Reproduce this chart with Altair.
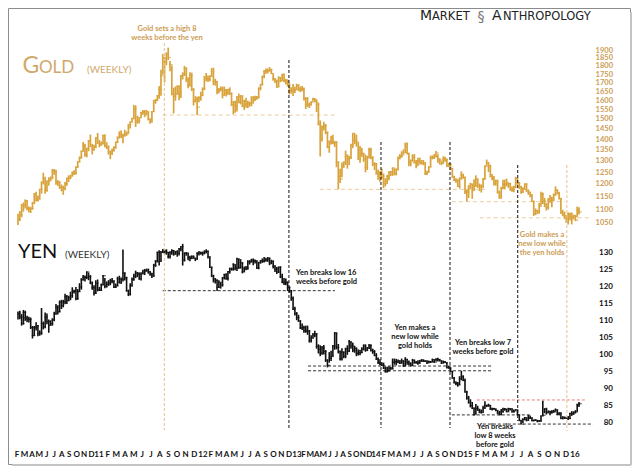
import altair as alt
import numpy as np
import pandas as pd

# ---------------- data (weekly, first bar = week ending 2010-02-05) ----------------
gold_close = [
    1065,1080,1117,1118, 1134,1102,1105,1105, 1125,1161,1136,1141,1180, 1209,1229,1176,1213, 1219,1229,1258,1256, 1209,1210,1190,1189,1181, 1204,1226,1227,1235, 1247,1246,1275,1296, 1318,1345,1368,1328,1357, 1394,1367,1352,1362, 1406,1385,1376,1380,1421,
    1369,1361,1343,1336, 1348,1361,1388,1410, 1428,1420,1418,1429, 1429,1474,1486,1504,1556, 1491,1493,1509,1536, 1542,1530,1540,1502, 1487,1541,1601,1602,1628, 1663,1744,1852,1828, 1876,1856,1811,1637,1624, 1636,1682,1641,1744, 1754,1788,1725,1686, 1746,1663,1598,1606,1565,
    1617,1631,1665,1738, 1725,1722,1740,1769, 1710,1709,1657,1662,1668, 1631,1660,1642,1663, 1642,1578,1592,1573, 1622,1592,1628,1572,1597, 1579,1589,1584,1619, 1604,1616,1616,1671,1692, 1740,1770,1773,1773, 1780,1757,1725,1711, 1677,1731,1714,1752,1713, 1700,1696,1658,1658,
    1656,1662,1688,1659, 1667,1666,1611,1581, 1576,1578,1592,1608,1595, 1580,1477,1405,1463, 1470,1434,1365,1387,1392, 1383,1387,1297,1234, 1223,1277,1294,1322, 1310,1314,1372,1395,1396, 1387,1309,1332,1336, 1310,1272,1315,1352, 1315,1288,1287,1244,1253, 1230,1234,1203,1214,
    1234,1252,1254,1270,1244, 1263,1318,1323,1327, 1339,1379,1336,1294, 1302,1318,1293,1300, 1300,1292,1293,1292,1245, 1252,1275,1316,1316, 1320,1337,1310,1304, 1293,1309,1305,1280,1287, 1268,1230,1216,1218, 1192,1222,1238,1231,1171, 1169,1185,1201,1175, 1192,1222,1195,1195,
    1189,1223,1277,1293,1279, 1234,1227,1203,1213, 1168,1152,1184,1199, 1201,1204,1203,1178, 1178,1189,1225,1205,1190, 1168,1180,1201,1174, 1168,1157,1133,1085,1095, 1094,1113,1160,1134, 1121,1108,1138,1146, 1137,1156,1177,1163,1142, 1088,1081,1076,1056, 1085,1075,1066,1076,
    1061,1098,1092,
]
gold_high = [
    1085,1095,1122,1128, 1140,1138,1112,1110, 1130,1165,1170,1155,1182, 1212,1249,1230,1216, 1230,1233,1265,1265, 1262,1218,1213,1200,1195, 1210,1228,1238,1241, 1255,1260,1276,1300, 1320,1348,1388,1380,1362, 1398,1424,1380,1375, 1412,1432,1398,1391,1424,
    1425,1388,1372,1348, 1358,1368,1390,1415, 1440,1445,1428,1448, 1440,1476,1490,1509,1577, 1575,1520,1512,1540, 1550,1550,1550,1543, 1505,1545,1602,1610,1632, 1682,1780,1878,1860, 1890,1920,1834,1805,1673, 1680,1686,1686,1748, 1764,1803,1794,1734, 1765,1762,1671,1625,1622,
    1625,1650,1675,1740, 1760,1745,1745,1790, 1792,1725,1712,1672,1680, 1680,1680,1665,1665, 1675,1645,1598,1600, 1625,1640,1630,1627,1605, 1616,1600,1595,1624, 1625,1627,1626,1674,1692, 1742,1777,1788,1787, 1796,1786,1756,1730, 1720,1740,1737,1754,1755, 1725,1722,1697,1676,
    1694,1679,1696,1692, 1680,1683,1675,1620, 1620,1590,1597,1617,1615, 1608,1590,1495,1470, 1488,1477,1440,1396,1419, 1424,1393,1392,1298, 1267,1294,1299,1348, 1331,1324,1380,1433,1433, 1424,1387,1370,1361, 1337,1330,1324,1361, 1361,1322,1295,1292,1263, 1256,1267,1246,1226,
    1240,1256,1256,1272,1268, 1268,1320,1332,1345, 1354,1385,1386,1337, 1308,1331,1332,1305, 1315,1316,1305,1305,1295, 1258,1277,1325,1326, 1332,1346,1331,1312, 1300,1322,1320,1312,1292, 1290,1270,1236,1226, 1221,1230,1255,1245,1231, 1180,1197,1207,1203, 1222,1238,1225,1204,
    1200,1227,1282,1307,1295, 1284,1244,1235,1220, 1220,1175,1190,1220, 1220,1224,1209,1206, 1192,1195,1232,1226,1210, 1195,1188,1205,1205, 1180,1170,1160,1134,1105, 1100,1126,1170,1167, 1146,1125,1145,1157, 1150,1164,1192,1180,1170, 1146,1100,1093,1080, 1090,1089,1090,1082,
    1081,1112,1110,
]
gold_low = [
    1044,1058,1072,1093, 1105,1098,1090,1088, 1100,1122,1132,1132,1140, 1163,1200,1162,1170, 1195,1213,1222,1240, 1199,1194,1182,1172,1158, 1176,1195,1210,1222, 1233,1240,1242,1270, 1296,1310,1343,1320,1317, 1345,1366,1330,1347, 1361,1379,1363,1370,1378,
    1364,1355,1330,1309, 1328,1344,1357,1383, 1405,1407,1382,1415, 1418,1430,1454,1486,1502, 1462,1478,1480,1510, 1525,1512,1520,1495, 1478,1486,1539,1583,1598, 1611,1627,1750,1704, 1807,1840,1771,1630,1532, 1600,1634,1603,1615, 1721,1742,1706,1670, 1680,1654,1574,1590,1523,
    1591,1600,1625,1660, 1710,1706,1710,1737, 1688,1685,1636,1641,1652, 1613,1628,1624,1633, 1632,1571,1527,1535, 1542,1586,1580,1565,1550, 1562,1560,1567,1570, 1584,1598,1605,1614,1658, 1686,1728,1755,1757, 1768,1754,1714,1700, 1672,1678,1705,1712,1705, 1692,1680,1635,1640,
    1626,1643,1660,1655, 1648,1653,1601,1555, 1565,1560,1574,1595,1592, 1539,1470,1321,1391, 1444,1426,1359,1338,1376, 1378,1365,1273,1180, 1206,1230,1270,1283, 1267,1282,1310,1359,1378, 1366,1306,1293,1319, 1297,1251,1261,1313, 1309,1278,1261,1242,1219, 1211,1223,1185,1192,
    1202,1217,1235,1236,1238, 1238,1260,1308,1315, 1330,1337,1330,1277, 1277,1298,1290,1269, 1277,1285,1285,1282,1240, 1240,1250,1272,1308, 1310,1318,1293,1285, 1282,1288,1297,1274,1274, 1261,1228,1214,1207, 1190,1183,1222,1224,1161, 1132,1145,1183,1142, 1175,1192,1186,1173,
    1167,1186,1220,1280,1252, 1230,1217,1196,1195, 1163,1142,1142,1180, 1180,1192,1186,1175, 1170,1168,1185,1199,1181, 1162,1165,1178,1170, 1158,1148,1130,1077,1080, 1084,1085,1115,1122, 1110,1097,1101,1127, 1110,1134,1155,1160,1140, 1085,1076,1065,1052, 1046,1060,1046,1067,
    1058,1072,1082,
]
yen_close = [
    112.1,111.2,109.2,112.5, 110.9,110.5,110.4,108.1, 105.7,108.0,108.5,106.3,106.4, 109.2,108.2,111.1,109.8, 108.7,109.2,110.3,112.1, 114.0,112.7,115.5,114.4,115.6, 117.1,116.0,116.8,117.4, 118.6,118.8,116.6,118.6, 120.0,122.1,122.8,122.8,124.4, 123.0,121.2,119.8,118.2, 121.1,119.2,119.0,120.6,123.3,
    120.2,120.8,121.2,121.8, 121.7,119.9,120.3,122.4, 121.4,122.2,124.1,122.7, 118.9,117.9,120.3,122.2,123.2, 124.1,123.8,122.4,123.8, 124.4,124.7,125.0,124.4, 123.8,123.2,126.4,127.6,130.2, 127.6,130.2,130.7,130.5, 130.2,128.9,130.2,130.7,129.7, 130.4,129.9,131.2,131.9, 127.9,129.9,130.0,128.7, 128.4,128.9,128.5,128.2,129.9,
    130.0,130.0,129.9,130.4, 130.5,128.9,125.8,123.2, 122.4,121.9,119.9,121.4,120.6, 122.7,123.6,122.5,124.5, 125.3,125.2,126.6,125.6, 128.2,125.8,127.1,124.4,125.3, 125.6,127.4,127.4,127.9, 127.6,127.7,125.6,127.1,127.7, 127.7,127.6,128.0,128.4, 127.1,127.6,126.1,125.2, 124.4,125.8,123.0,121.4,121.2, 121.4,119.8,118.8,116.6,
    113.5,112.1,111.0,110.0, 107.9,108.0,107.0,107.1, 107.0,104.2,104.9,105.8,106.2, 102.5,101.6,100.5,102.0, 101.0,98.4,96.9,99.0,99.5, 102.6,106.4,102.2,100.9, 98.8,100.8,99.6,101.7, 101.1,103.8,102.6,101.3,101.9, 100.4,100.6,100.6,101.7, 102.6,101.4,102.0,102.7, 101.4,100.9,99.8,98.7,97.7, 97.2,96.9,96.1,95.0,
    95.3,96.1,95.9,97.8,98.0, 97.8,98.2,97.6,98.2, 96.8,98.7,97.8,97.3, 96.8,98.4,97.7,97.8, 97.5,98.2,98.5,98.1,98.2, 97.6,98.0,97.9,98.6, 97.9,98.7,98.6,98.2, 97.5,98.0,97.7,96.3,96.1, 95.1,93.1,91.7,91.5, 91.1,92.9,93.5,92.4,89.0, 87.3,86.0,85.0,84.3, 82.4,84.2,83.7,83.1,
    83.0,84.3,85.1,85.0,85.1, 84.0,84.2,84.0,83.6, 82.8,82.4,83.3,84.0, 84.0,83.2,84.1,84.1, 83.2,83.5,83.8,82.3,80.6, 79.6,81.0,81.5,80.7, 81.4,81.4,80.6,80.8,80.7, 80.5,80.5,82.0,82.2, 84.0,82.9,83.3,82.9, 83.4,83.2,83.8,82.4,82.9, 81.2,81.6,81.4,81.4, 81.2,82.7,82.6,83.1,
    83.2,85.3,85.6,
]
yen_high = [
    112.8,113.0,112.0,113.2, 113.0,111.5,111.2,111.0, 108.5,108.5,109.6,108.8,107.2, 113.8,109.8,112.5,112.2, 110.4,110.2,110.8,112.7, 115.0,114.6,116.0,116.2,116.2, 118.0,117.6,117.4,118.6, 119.9,119.2,120.0,119.4, 121.1,122.6,123.5,123.4,124.6, 124.2,123.5,121.6,120.5, 122.0,122.2,120.0,121.0,123.5,
    122.6,121.6,122.0,122.4, 122.6,122.0,121.0,123.0, 123.3,122.8,131.0,124.3, 123.0,119.2,121.1,122.8,123.9, 124.8,124.4,124.3,124.3, 125.1,125.3,125.4,125.4, 124.7,124.2,126.8,127.9,130.4, 130.8,130.6,131.2,131.0, 131.1,130.3,130.5,131.1,130.9, 130.6,130.8,131.5,132.0, 132.7,130.2,130.3,130.0, 129.2,129.3,129.3,128.6,130.2,
    130.6,130.4,130.4,130.8, 131.1,130.7,129.0,126.0, 123.6,122.6,122.3,122.0,121.4, 122.9,123.9,124.0,124.7, 125.7,125.7,127.0,126.6, 128.6,128.4,128.2,127.3,126.0, 126.2,127.9,127.9,128.3, 128.4,128.1,127.8,127.4,127.9, 128.4,128.8,128.6,128.8, 128.7,128.0,127.8,126.4, 125.9,126.0,126.1,123.9,122.6, 122.5,121.6,120.2,119.1,
    117.2,114.2,112.6,111.8, 110.2,109.2,108.6,108.6, 108.6,107.3,105.8,106.4,107.1, 106.4,103.1,102.8,102.6, 102.9,101.4,98.7,100.8,101.2, 102.9,106.7,106.6,103.2, 101.3,101.9,101.0,102.1, 102.8,104.4,104.0,103.6,102.7, 102.2,101.6,101.5,102.2, 103.1,103.1,102.3,103.2, 103.1,101.8,101.4,100.5,99.2, 98.7,97.8,97.7,96.5,
    96.5,96.6,96.4,98.9,98.9, 98.8,98.6,98.4,98.9, 98.4,99.3,98.8,98.3, 97.8,98.8,98.6,98.2, 98.4,98.5,98.7,98.6,98.4, 98.3,98.3,98.2,98.9, 98.7,99.0,99.1,98.8, 98.4,98.3,98.1,97.8,96.7, 96.3,95.3,93.5,92.2, 92.0,93.7,95.3,94.0,93.0, 89.4,87.9,86.9,86.1, 84.5,85.5,85.0,84.1,
    83.9,85.0,86.3,85.3,85.6, 85.2,84.4,84.3,84.2, 83.7,83.5,84.0,84.4, 84.3,84.1,84.4,84.3, 84.2,83.9,84.0,83.8,82.4, 80.9,81.3,81.7,81.5, 82.3,82.1,81.6,80.9,81.0, 80.8,80.8,82.1,86.5, 84.3,84.4,83.6,83.5, 83.7,83.8,84.2,83.9,83.1, 83.0,81.9,81.8,81.7, 82.0,82.9,83.4,83.3,
    83.7,85.6,86.1,
]
yen_low = [
    110.4,110.5,108.6,108.9, 110.0,109.6,109.5,107.6, 104.8,105.5,107.2,105.5,105.6, 105.9,107.5,107.8,109.0, 106.5,108.6,108.6,109.9, 111.8,111.9,112.5,113.5,114.0, 114.9,115.0,115.8,116.1, 116.8,118.1,116.1,116.2, 118.5,119.2,121.9,121.6,122.3, 122.0,120.8,119.2,117.5, 117.9,118.7,118.8,118.8,120.5,
    119.6,119.8,120.3,120.5, 121.1,119.7,119.7,120.2, 121.0,120.9,121.6,121.9, 118.6,117.3,117.5,120.1,121.8, 122.6,122.9,122.1,121.9, 123.8,123.5,124.5,123.9, 123.3,122.6,123.0,125.9,127.2, 126.3,127.4,130.0,129.7, 129.5,128.4,128.4,129.5,129.2, 129.5,128.9,129.3,130.5, 126.3,127.5,129.2,127.9, 127.6,128.2,128.3,127.6,128.0,
    129.3,129.5,129.2,129.6, 129.9,128.4,125.6,122.9, 121.3,121.0,118.8,119.7,119.5, 120.1,122.2,122.1,121.9, 123.9,124.8,124.8,124.9, 124.7,125.3,125.4,124.0,124.4, 124.9,125.1,126.6,127.2, 126.4,126.9,125.3,125.2,126.9, 127.1,127.2,127.6,127.4, 126.4,126.7,125.4,124.4, 123.8,124.1,122.6,121.1,120.6, 120.5,118.8,118.3,115.9,
    113.2,111.6,110.2,109.7, 107.6,107.3,106.5,106.5, 105.9,103.6,103.6,104.8,105.2, 101.8,100.4,99.6,100.0, 100.1,97.9,96.3,97.7,98.2, 99.5,101.5,101.6,100.4, 98.3,98.3,99.0,99.0, 100.0,100.8,101.8,100.8,100.6, 99.6,99.8,99.9,100.5, 101.3,100.9,101.1,101.7, 101.0,100.3,99.6,98.5,97.3, 96.9,96.7,95.8,94.8,
    94.8,95.1,95.6,95.7,97.1, 96.9,97.5,97.3,97.4, 96.4,96.6,97.1,96.9, 96.6,96.7,97.4,97.4, 97.1,97.4,97.9,97.9,97.9, 97.3,97.6,97.6,97.8, 97.6,98.1,98.0,98.1, 97.3,97.6,97.6,96.0,95.9, 94.9,93.0,91.6,91.0, 90.6,91.1,92.5,92.3,88.9, 86.8,85.6,84.5,84.0, 82.1,82.6,83.5,82.8,
    82.7,83.0,84.1,84.6,84.7, 83.8,83.6,83.8,83.4, 82.6,82.2,82.2,82.9, 83.5,83.1,83.2,83.6, 83.0,83.0,83.6,82.2,80.5, 79.6,79.9,80.7,80.4, 80.6,81.1,80.4,80.4,80.5, 80.1,80.3,80.3,81.9, 82.8,82.4,82.9,82.2, 82.7,82.9,83.3,82.2,82.2, 81.1,81.0,81.1,81.1, 80.8,81.1,82.0,82.3,
    82.7,83.2,84.6,
]

gold_ticks = [1050, 1100, 1150, 1200, 1250, 1300, 1350, 1400, 1450, 1500,
              1550, 1600, 1650, 1700, 1750, 1800, 1850, 1900]
yen_ticks = [80, 85, 90, 95, 100, 105, 110, 115, 120, 125, 130]

month_labels = ("F M A M J J A S O N D 11 F M A M J J A S O N D 12 "
                "F M A M J J A S O N D 13 F M A M J J A S O N D 14 "
                "F M A M J J A S O N D 15 F M A M J J A S O N D 16").split()
# where the reference prints the first label and each year label (page px)
label_anchor_idx = [0, 11, 23, 35, 47, 59, 71]
label_anchor_px = [17, 99, 203, 297, 376, 468, 575]

# support / resistance lines: (level, from, to)
gold_levels = [(1523, "2011-08-19", "2013-06-15"), (1180, "2013-04-18", "2015-01-23"),
               (1131, "2014-09-10", "2015-11-21"), (1070, "2014-12-27", "2016-03-05")]
yen_levels = [(118.9, "2011-08-19", "2013-06-15"), (96.7, "2013-03-03", "2015-02-15"),
              (95.3, "2013-03-03", "2015-02-15"), (82.3, "2014-09-10", "2015-07-15"),
              (79.6, "2015-01-08", "2016-03-09")]
yen_red_levels = [(86.7, "2014-12-16", "2016-02-14")]
event_dates = ["2011-08-25", "2012-12-19", "2013-12-10", "2014-09-03", "2015-05-23", "2015-11-29"]

# ---------------- styling ----------------
FONT = "Lato"
GOLD = "#d9a33c"
TAN = "#cc9d55"
TITLE_TAN = "#d0a86c"
TAN_LIGHT = "#ebcd9c"
ORANGE_V = "#e4c187"
BLACK = "#111111"

START = pd.Timestamp("2010-02-05")
SPAN = 2170
XR = (10, 571)
PX_PER_DAY = (XR[1] - XR[0]) / SPAN


def d(s):
    return (pd.Timestamp(s) - START).days


xscale = alt.Scale(domain=[0, SPAN], range=list(XR), nice=False, zero=False)
gscale = alt.Scale(type="log", domain=[1050, 1900], range=[215.3, 42.7], nice=False)
yscale = alt.Scale(domain=[80, 130], range=[414.7, 245], nice=False, zero=False)
X = lambda f: alt.X(f, scale=xscale, axis=None)

n_g = min(len(gold_close), len(gold_high), len(gold_low))
gdf = pd.DataFrame({"t": [7 * i for i in range(n_g)], "c": gold_close[:n_g],
                    "h": gold_high[:n_g], "l": gold_low[:n_g]})
n_y = min(len(yen_close), len(yen_high), len(yen_low))
ydf = pd.DataFrame({"t": [7 * i for i in range(n_y)], "c": yen_close[:n_y],
                    "h": yen_high[:n_y], "l": yen_low[:n_y]})

ONE = pd.DataFrame({"k": [0]})


def txt(s, x, y, size, color, weight="bold", align="center", baseline="middle", font=FONT):
    return alt.Chart(ONE).mark_text(text=s, fontSize=size, color=color, fontWeight=weight,
                                    align=align, baseline=baseline, font=font).encode(
        x=alt.value(x), y=alt.value(y))


def levels_df(levels):
    return pd.DataFrame({"v": [a for a, _, _ in levels], "x1": [d(b) for _, b, _ in levels],
                         "x2": [d(c) for _, _, c in levels]})


# ---- gold panel ----
g_bars = alt.Chart(gdf).mark_rule(color=GOLD, strokeWidth=1.7).encode(
    x=X("t:Q"), y=alt.Y("h:Q", scale=gscale, axis=None), y2="l:Q")
g_close = alt.Chart(gdf).mark_tick(color=GOLD, orient="horizontal", size=3.5, thickness=1.3, xOffset=1).encode(
    x=X("t:Q"), y=alt.Y("c:Q", scale=gscale, axis=None))
g_lines = alt.Chart(levels_df(gold_levels)).mark_rule(color=TAN_LIGHT, strokeDash=[4, 3], strokeWidth=1).encode(
    x=X("x1:Q"), x2="x2:Q", y=alt.Y("v:Q", scale=gscale, axis=None))
g_axis = alt.Chart(pd.DataFrame({"v": gold_ticks})).mark_text(
    align="right", baseline="middle", font=FONT, fontWeight="bold", fontSize=7.5, color=TAN).encode(
    x=alt.value(605), y=alt.Y("v:Q", scale=gscale, axis=None), text=alt.Text("v:Q", format="d"))
gold_layer = alt.layer(g_lines, g_bars, g_close, g_axis)

# ---- yen panel ----
y_bars = alt.Chart(ydf).mark_rule(color=BLACK, strokeWidth=1.6).encode(
    x=X("t:Q"), y=alt.Y("h:Q", scale=yscale, axis=None), y2="l:Q")
y_close = alt.Chart(ydf).mark_tick(color=BLACK, orient="horizontal", size=3.5, thickness=1.2, xOffset=1).encode(
    x=X("t:Q"), y=alt.Y("c:Q", scale=yscale, axis=None))
y_lines = alt.Chart(levels_df(yen_levels)).mark_rule(color="#333333", strokeDash=[3, 2], strokeWidth=1).encode(
    x=X("x1:Q"), x2="x2:Q", y=alt.Y("v:Q", scale=yscale, axis=None))
y_red = alt.Chart(levels_df(yen_red_levels)).mark_rule(color="#e8857c", strokeDash=[3, 2], strokeWidth=1).encode(
    x=X("x1:Q"), x2="x2:Q", y=alt.Y("v:Q", scale=yscale, axis=None))
y_axis = alt.Chart(pd.DataFrame({"v": yen_ticks})).mark_text(
    align="right", baseline="middle", font=FONT, fontWeight="bold", fontSize=8, color=BLACK).encode(
    x=alt.value(605), y=alt.Y("v:Q", scale=yscale, axis=None), text=alt.Text("v:Q", format="d"))
yen_layer = alt.layer(y_lines, y_red, y_bars, y_close, y_axis)

# ---- event verticals ----
v_spec = [(ORANGE_V, 35, 422), (BLACK, 52, 420), (BLACK, 134, 420),
          (BLACK, 134, 420), (BLACK, 157, 413), (ORANGE_V, 157, 423)]
verticals = []
for dt, (col, y1, y2) in zip(event_dates, v_spec):
    verticals.append(alt.Chart(pd.DataFrame({"t": [d(dt)]})).mark_rule(
        color=col, strokeDash=[3, 2], strokeWidth=1).encode(
        x=X("t:Q"), y=alt.value(y1), y2=alt.value(y2)))

# ---- month labels (placed as in the reference) ----
label_px = np.interp(np.arange(len(month_labels)), label_anchor_idx, label_anchor_px)
mdf = pd.DataFrame({"t": (label_px - 8 - XR[0]) / PX_PER_DAY, "lab": month_labels})
months = alt.Chart(mdf).mark_text(font=FONT, fontWeight="bold", fontSize=8, color=BLACK,
                                  baseline="middle").encode(x=X("t:Q"), y=alt.value(447), text="lab:N")

# ---- titles & annotations ----
MA = "#222222"
texts = [
    txt("G", 14.5, 65, 23, TITLE_TAN, weight="normal", align="left", baseline="alphabetic"),
    txt("OLD", 31, 65, 17, TITLE_TAN, weight="normal", align="left", baseline="alphabetic"),
    txt("(WEEKLY)", 79, 65, 10, TITLE_TAN, weight="normal", align="left", baseline="alphabetic"),
    txt("YEN", 10, 250, 20, BLACK, weight="normal", align="left", baseline="alphabetic"),
    txt("(WEEKLY)", 57, 250, 10, "#333333", weight="normal", align="left", baseline="alphabetic"),
    txt("M", 412, 12, 14, MA, weight="normal", align="left", baseline="alphabetic", font="DejaVu Sans"),
    txt("ARKET", 424, 12, 11.5, MA, weight="normal", align="left", baseline="alphabetic", font="DejaVu Sans"),
    txt("§", 473, 13, 14, "#777777", weight="normal", align="center", baseline="alphabetic", font="DejaVu Sans"),
    txt("A", 484, 12, 14, MA, weight="normal", align="left", baseline="alphabetic", font="DejaVu Sans"),
    txt("NTHROPOLOGY", 495, 12, 11.5, MA, weight="normal", align="left", baseline="alphabetic", font="DejaVu Sans"),
    txt("Gold sets a high 8", 159, 21, 7.5, TAN),
    txt("weeks before the yen", 159, 30, 7.5, TAN),
    txt("Yen breaks low 16", 288, 265, 7.5, BLACK, align="left"),
    txt("weeks before gold", 288, 274, 7.5, BLACK, align="left"),
    txt("Yen makes a", 407, 320, 7.5, BLACK),
    txt("new low while", 407, 329, 7.5, BLACK),
    txt("gold holds", 407, 338, 7.5, BLACK),
    txt("Yen breaks low 7", 475, 335, 7.5, BLACK),
    txt("weeks before gold", 475, 344, 7.5, BLACK),
    txt("Yen breaks", 487, 418.5, 7.5, BLACK),
    txt("low 8 weeks", 487, 427.5, 7.5, BLACK),
    txt("before gold", 487, 436.5, 7.5, BLACK),
    txt("Gold makes a", 534, 227, 7.5, TAN),
    txt("new low while", 534, 236, 7.5, TAN),
    txt("the yen holds", 534, 245, 7.5, TAN),
]

# ---- frame shadow ----
shadow = [
    alt.Chart(ONE).mark_rule(color="#c4c4c4", strokeWidth=2).encode(
        x=alt.value(623), y=alt.value(4), y2=alt.value(457)),
    alt.Chart(ONE).mark_rule(color="#c4c4c4", strokeWidth=2).encode(
        x=alt.value(4), x2=alt.value(623), y=alt.value(457)),
]

chart = alt.layer(gold_layer, yen_layer, *verticals, months, *texts, *shadow).resolve_scale(
    y="independent"
).properties(
    width=622, height=456,
    autosize=alt.AutoSizeParams(type="none"),
    padding={"left": 0, "top": 0, "right": 2, "bottom": 2},
    background="white",
).configure_view(stroke="#8c8c8c", strokeWidth=1)

chart.save("out.html", embed_options={"renderer": "svg", "actions": False})
